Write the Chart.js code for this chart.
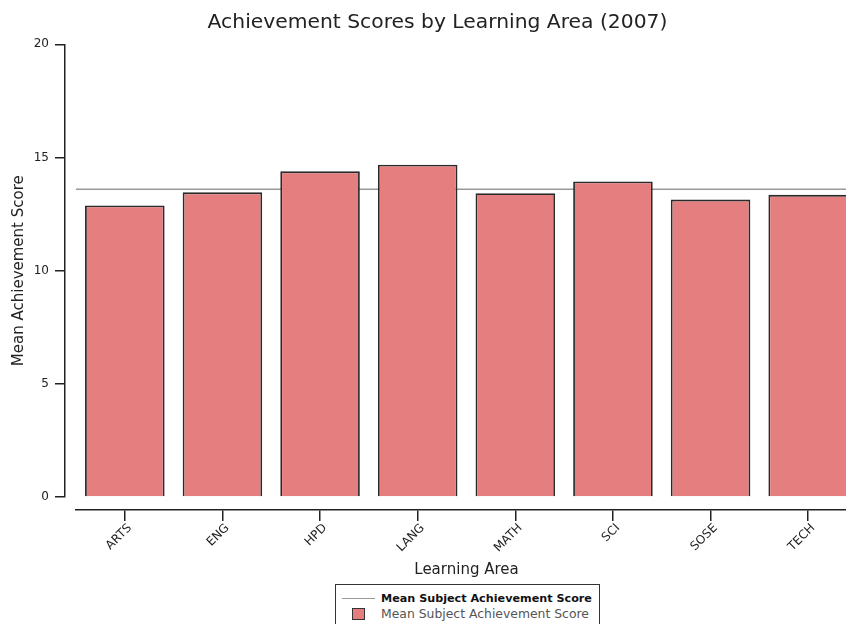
<!DOCTYPE html>
<html>
<head>
<meta charset="utf-8">
<title>Achievement Scores by Learning Area (2007)</title>
<script src="https://cdn.jsdelivr.net/npm/chart.js@4.4.0/dist/chart.umd.min.js"></script>
<style>
    html, body { margin: 0; padding: 0; background: #fff; overflow: hidden; }
    #wrap { position: relative; width: 875px; height: 624px; }
    #legend {
        position: absolute; left: 335px; top: 584px; width: 265px; height: 50px;
        border: 1px solid #333; box-sizing: border-box; background: #fff;
        font-family: 'DejaVu Sans', Verdana, sans-serif;
    }
    .row { position: absolute; left: 0; height: 15px; line-height: 15px; white-space: nowrap; }
    .row .txt { position: absolute; left: 45px; top: 0; }
    .swatch-line { position: absolute; left: 6px; top: 7px; width: 33px; height: 0; border-top: 1.5px solid #999; }
    .swatch-box { position: absolute; left: 16px; top: 2px; width: 11px; height: 10px; background: #e57f7f; border: 1.5px solid #333; }
</style>
</head>
<body>
<div id="wrap">
    <canvas id="scoreChart" width="875" height="624"></canvas>
    <div id="legend">
        <div class="row" style="top:6px"><span class="swatch-line"></span><span class="txt" style="color:#111;font-weight:bold;font-size:11.2px">Mean Subject Achievement Score</span></div>
        <div class="row" style="top:21px"><span class="swatch-box"></span><span class="txt" style="color:#555;font-size:12.4px">Mean Subject Achievement Score</span></div>
    </div>
</div>
<script>
// Learning areas and their mean achievement scores (2007)
const categories = ['ARTS', 'ENG', 'HPD', 'LANG', 'MATH', 'SCI', 'SOSE', 'TECH'];
const meanScores = [12.88, 13.46, 14.39, 14.68, 13.42, 13.94, 13.14, 13.35];
const overallMean = 13.60;
const yTicks = [0, 5, 10, 15, 20];

Chart.defaults.font.family = "'DejaVu Sans', Verdana, sans-serif";
Chart.defaults.color = '#222';

const axisColor = '#222';

// empty axis used only to reserve space (offsets the real axes from the plot)
function spacer(position, size, weight) {
    const horizontal = position === 'top' || position === 'bottom';
    return {
        type: 'linear',
        position: position,
        weight: weight,
        offset: false,
        ticks: { display: false },
        grid: { display: false },
        border: { display: false },
        afterFit: function(scale) {
            if (horizontal) scale.height = size; else scale.width = size;
        }
    };
}

function createScoreChart() {
    const canvas = document.getElementById('scoreChart');

    // mean line spans the whole plot, so it sits on a hidden linear x axis
    const meanLine = [
        { x: -0.5, y: overallMean },
        { x: categories.length - 0.5, y: overallMean }
    ];

    new Chart(canvas, {
        type: 'bar',
        data: {
            labels: categories,
            datasets: [
                {
                    label: 'Mean Subject Achievement Score',
                    data: meanScores,
                    backgroundColor: '#e57f7f',
                    borderColor: '#2a2a2a',
                    borderWidth: 1.8,
                    barPercentage: 0.815,
                    categoryPercentage: 1.0,
                    grouped: false,
                    order: 1
                },
                {
                    label: 'Mean Subject Achievement Score',
                    type: 'line',
                    data: meanLine,
                    xAxisID: 'x2',
                    borderColor: '#999',
                    borderWidth: 1.5,
                    pointRadius: 0,
                    fill: false,
                    order: 2
                }
            ]
        },
        options: {
            responsive: false,
            animation: false,
            layout: { padding: { left: 0, right: 0, top: 0, bottom: 42 } },
            plugins: {
                legend: { display: false },
                tooltip: { enabled: false },
                title: {
                    display: true,
                    text: 'Achievement Scores by Learning Area (2007)',
                    font: { size: 20.3, weight: 'normal' },
                    color: '#222',
                    padding: { top: 11, bottom: 9 }
                }
            },
            scales: {
                x: {
                    type: 'category',
                    position: 'bottom',
                    weight: 1,
                    grid: { offset: false, drawOnChartArea: false, tickLength: 11, color: axisColor, lineWidth: 1.5 },
                    border: { color: axisColor, width: 1.5 },
                    ticks: { minRotation: 45, maxRotation: 45, font: { size: 12 }, color: '#222', padding: 0, labelOffset: 5 },
                    title: { display: true, text: 'Learning Area', font: { size: 15 }, color: '#222', padding: { top: 0, bottom: 3 } },
                    afterFit: function(scale) { scale.height = 72; }
                },
                xPad: spacer('bottom', 13, 0),
                x2: {
                    type: 'linear',
                    display: false,
                    offset: false,
                    min: -0.5,
                    max: categories.length - 0.5
                },
                y: {
                    position: 'left',
                    weight: 1,
                    min: yTicks[0],
                    max: yTicks[yTicks.length - 1],
                    afterBuildTicks: function(scale) {
                        scale.ticks = yTicks.map(v => ({ value: v }));
                    },
                    grid: { drawOnChartArea: false, tickLength: 10, color: axisColor, lineWidth: 1.5 },
                    border: { color: axisColor, width: 1.5 },
                    ticks: { font: { size: 12 }, color: '#222', padding: 6 },
                    title: { display: true, text: 'Mean Achievement Score', font: { size: 15 }, color: '#222', padding: { top: 10, bottom: 0 } },
                    afterFit: function(scale) { scale.width = 65; }
                },
                yPad: spacer('left', 11, 0),
                yRightPad: spacer('right', 18, 0)
            }
        }
    });
}

createScoreChart();
</script>
</body>
</html>
